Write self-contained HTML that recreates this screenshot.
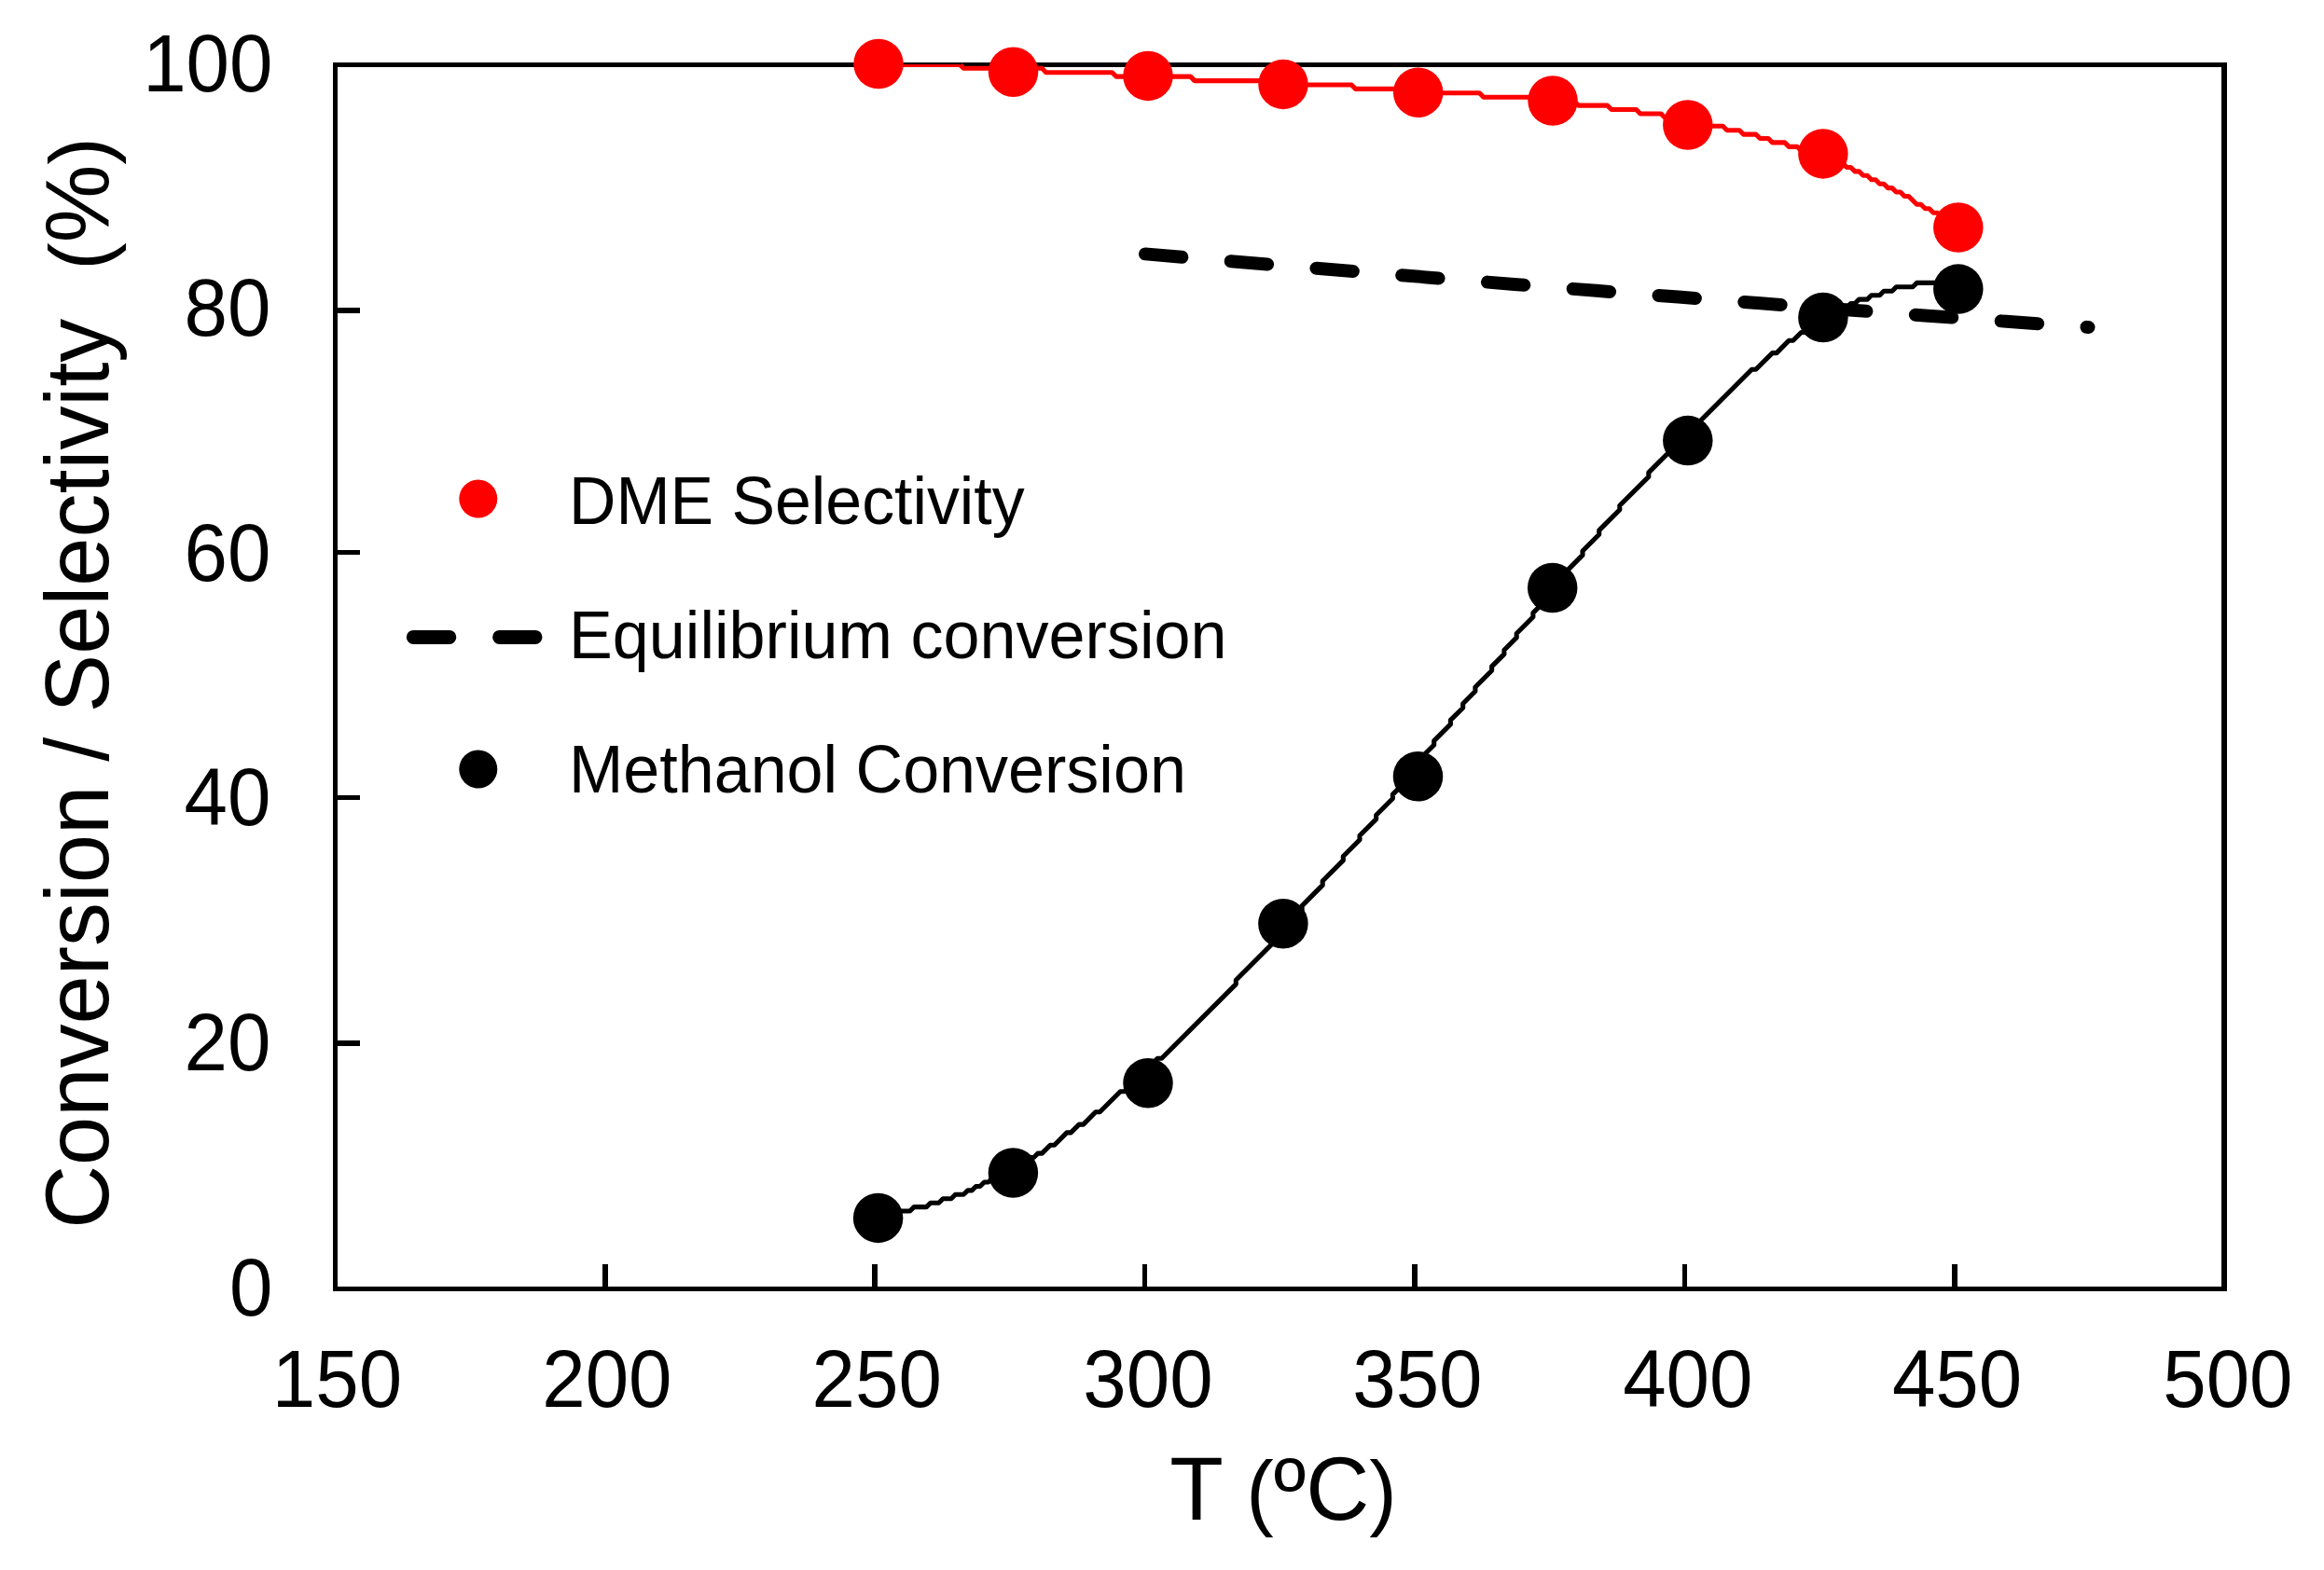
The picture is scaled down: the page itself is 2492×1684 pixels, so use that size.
<!DOCTYPE html>
<html lang="en"><head><meta charset="utf-8"><title>Conversion / Selectivity vs T</title>
<style>html,body{margin:0;padding:0;background:#fff}body{width:2492px;height:1684px;overflow:hidden}svg{display:block}text{white-space:pre;font-family:"Liberation Sans",sans-serif;fill:#000}.tk{font-size:83.5px}.ax{font-size:92.8px}.lg{font-size:69.8px}.pn{font-size:87.2px}</style></head><body>
<svg width="2492" height="1684" viewBox="0 0 2492 1684">
<rect width="2492" height="1684" fill="#fff"/>
<g fill="#000" shape-rendering="crispEdges">
<rect x="357" y="67" width="2031" height="5"/>
<rect x="357" y="1380" width="2031" height="5"/>
<rect x="357" y="67" width="5" height="1318"/>
<rect x="2382" y="67" width="6" height="1318"/>
<rect x="362" y="330" width="24" height="6"/>
<rect x="362" y="590" width="24" height="5"/>
<rect x="362" y="853" width="24" height="5"/>
<rect x="362" y="1116" width="24" height="6"/>
<rect x="646" y="1356" width="6" height="24"/>
<rect x="935" y="1356" width="6" height="24"/>
<rect x="1225" y="1356" width="5" height="24"/>
<rect x="1514" y="1356" width="6" height="24"/>
<rect x="1804" y="1356" width="5" height="24"/>
<rect x="2093" y="1356" width="6" height="24"/>
</g>
<text class="tk" transform="translate(292.5 1410.8) scale(1 1.035)" text-anchor="end">0</text>
<text class="tk" transform="translate(290.5 1148.2) scale(1 1.035)" text-anchor="end">20</text>
<text class="tk" transform="translate(290.5 884.6) scale(1 1.035)" text-anchor="end">40</text>
<text class="tk" transform="translate(290.5 623.3) scale(1 1.035)" text-anchor="end">60</text>
<text class="tk" transform="translate(290.5 360.4) scale(1 1.035)" text-anchor="end">80</text>
<text class="tk" transform="translate(292.5 97.8) scale(1 1.035)" text-anchor="end">100</text>
<text class="tk" transform="translate(361.5 1508.7) scale(1 1.035)" text-anchor="middle">150</text>
<text class="tk" transform="translate(650.9 1508.7) scale(1 1.035)" text-anchor="middle">200</text>
<text class="tk" transform="translate(940.2 1508.7) scale(1 1.035)" text-anchor="middle">250</text>
<text class="tk" transform="translate(1231.0 1508.7) scale(1 1.035)" text-anchor="middle">300</text>
<text class="tk" transform="translate(1519.9 1508.7) scale(1 1.035)" text-anchor="middle">350</text>
<text class="tk" transform="translate(1809.8 1508.7) scale(1 1.035)" text-anchor="middle">400</text>
<text class="tk" transform="translate(2098.6 1508.7) scale(1 1.035)" text-anchor="middle">450</text>
<text class="tk" transform="translate(2388.9 1508.7) scale(1 1.035)" text-anchor="middle">500</text>
<text class="ax" transform="translate(1376.0 1630.0) scale(1.016 1.03)" text-anchor="middle">T <tspan class="pn">(</tspan>ºC<tspan class="pn">)</tspan></text>
<text class="ax" transform="translate(116.2 732.5) rotate(-90) scale(1.012 1.03)" text-anchor="middle" xml:space="preserve">Conversion / Selectivity  <tspan class="pn">(</tspan>%<tspan class="pn">)</tspan></text>
<path d="M1228.0 272.4 L1272.0 276.2 L1316.0 279.9 L1359.9 283.5 L1403.9 287.2 L1447.9 290.8 L1491.9 294.3 L1535.8 297.9 L1579.8 301.4 L1623.8 304.9 L1667.8 308.4 L1711.8 311.8 L1755.7 315.3 L1799.7 318.6 L1843.7 322.0 L1887.7 325.3 L1931.7 328.6 L1975.6 331.9 L2019.6 335.2 L2063.6 338.4 L2107.6 341.6 L2151.5 344.8 L2195.5 347.9 L2239.5 351.0" fill="none" stroke="#000" stroke-width="14" stroke-linecap="round" stroke-dasharray="39.5 52.55"/>
<path d="M940.3 1303.4 L953.6 1303.4 L958.0 1299.0 L975.7 1299.0 L980.1 1294.6 L993.4 1294.6 L997.8 1290.2 L1006.7 1290.2 L1011.1 1285.7 L1020.0 1285.7 L1024.4 1281.3 L1033.2 1281.3 L1037.7 1276.9 L1042.1 1276.9 L1046.5 1272.5 L1050.9 1272.5 L1055.4 1268.0 L1059.8 1268.0 L1064.2 1263.6 L1068.6 1263.6 L1073.1 1259.2 L1077.5 1259.2 L1081.9 1254.8 L1086.3 1254.8 L1090.8 1250.3 L1095.2 1250.3 L1104.0 1241.5 L1108.5 1241.5 L1112.9 1237.1 L1117.3 1237.1 L1126.2 1228.2 L1130.6 1228.2 L1143.9 1214.9 L1148.3 1214.9 L1157.1 1206.1 L1161.6 1206.1 L1174.8 1192.8 L1179.3 1192.8 L1201.4 1170.7 L1205.8 1170.7 L1241.2 1135.3 L1245.6 1135.3 L1325.3 1055.6 L1325.3 1051.2 L1365.1 1011.4 L1365.1 1007.0 L1396.1 976.0 L1396.1 971.6 L1418.2 949.4 L1418.2 945.0 L1440.3 922.9 L1440.3 918.5 L1458.0 900.8 L1458.0 896.3 L1475.7 878.6 L1475.7 874.2 L1493.4 856.5 L1493.4 852.1 L1511.1 834.4 L1511.1 830.0 L1524.4 816.7 L1524.4 812.3 L1537.7 799.0 L1537.7 794.6 L1555.4 776.9 L1555.4 772.4 L1568.7 759.2 L1568.7 754.7 L1581.9 741.5 L1581.9 737.0 L1599.6 719.3 L1599.6 714.9 L1612.9 701.6 L1612.9 697.2 L1626.2 683.9 L1626.2 679.5 L1643.9 661.8 L1643.9 657.4 L1661.6 639.7 L1661.6 635.3 L1674.9 622.0 L1674.9 617.6 L1697.0 595.4 L1697.0 591.0 L1714.7 573.3 L1714.7 568.9 L1736.8 546.8 L1736.8 542.3 L1767.8 511.4 L1767.8 506.9 L1878.4 396.3 L1882.8 396.3 L1900.5 378.6 L1905.0 378.6 L1918.2 365.3 L1922.7 365.3 L1931.5 356.5 L1935.9 356.5 L1944.8 347.6 L1949.2 347.6 L1958.1 338.8 L1962.5 338.8 L1966.9 334.4 L1971.3 334.4 L1975.8 329.9 L1980.2 329.9 L1984.6 325.5 L1989.0 325.5 L1993.5 321.1 L2002.3 321.1 L2006.7 316.7 L2015.6 316.7 L2020.0 312.2 L2028.9 312.2 L2033.3 307.8 L2051.0 307.8 L2055.4 303.4 L2099.7 303.4" fill="none" stroke="#000" stroke-width="5.1" stroke-linejoin="round" stroke-linecap="square"/>
<g fill="#000">
<circle cx="941.6" cy="1306.4" r="26.75"/>
<circle cx="1086.4" cy="1258.0" r="26.75"/>
<circle cx="1231.0" cy="1161.7" r="26.75"/>
<circle cx="1375.9" cy="990.7" r="26.75"/>
<circle cx="1520.5" cy="832.7" r="26.75"/>
<circle cx="1664.7" cy="630.5" r="26.75"/>
<circle cx="1809.8" cy="472.6" r="26.75"/>
<circle cx="1954.9" cy="340.5" r="26.75"/>
<circle cx="2099.8" cy="310.1" r="26.75"/>
</g>
<path d="M940.3 68.9 L1028.8 68.9 L1033.2 73.3 L1117.3 73.3 L1121.7 77.7 L1192.5 77.7 L1197.0 82.1 L1276.6 82.1 L1281.0 86.6 L1365.1 86.6 L1369.5 91.0 L1449.2 91.0 L1453.6 95.4 L1524.4 95.4 L1528.8 99.8 L1586.4 99.8 L1590.8 104.3 L1643.9 104.3 L1648.3 108.7 L1688.1 108.7 L1692.6 113.1 L1723.5 113.1 L1728.0 117.5 L1754.5 117.5 L1758.9 122.0 L1781.1 122.0 L1785.5 126.4 L1807.6 126.4 L1812.0 130.8 L1829.7 130.8 L1834.2 135.2 L1847.4 135.2 L1851.9 139.7 L1865.1 139.7 L1869.6 144.1 L1882.8 144.1 L1887.3 148.5 L1896.1 148.5 L1900.5 152.9 L1913.8 152.9 L1918.2 157.4 L1927.1 157.4 L1931.5 161.8 L1940.4 161.8 L1944.8 166.2 L1953.6 166.2 L1958.1 170.6 L1962.5 170.6 L1966.9 175.1 L1975.8 175.1 L1980.2 179.5 L1984.6 179.5 L1989.0 183.9 L1993.5 183.9 L1997.9 188.3 L2002.3 188.3 L2006.7 192.8 L2011.2 192.8 L2015.6 197.2 L2020.0 197.2 L2024.4 201.6 L2028.9 201.6 L2033.3 206.0 L2037.7 206.0 L2042.1 210.5 L2046.6 210.5 L2055.4 219.3 L2059.8 219.3 L2064.3 223.7 L2068.7 223.7 L2073.1 228.2 L2077.5 228.2 L2082.0 232.6 L2086.4 232.6 L2095.2 241.4 L2099.7 241.4" fill="none" stroke="#f00" stroke-width="5.1" stroke-linejoin="round" stroke-linecap="square"/>
<rect x="960" y="64" width="78" height="3" fill="#fff"/><rect x="960" y="67" width="71" height="2.2" fill="#000"/><rect x="960" y="69.2" width="69" height="2.8" fill="#f00"/>
<g fill="#f00">
<circle cx="942.0" cy="68.5" r="26.75"/>
<circle cx="1086.5" cy="77.2" r="26.75"/>
<circle cx="1231.0" cy="81.4" r="26.75"/>
<circle cx="1376.0" cy="90.4" r="26.75"/>
<circle cx="1520.7" cy="99.2" r="26.75"/>
<circle cx="1665.0" cy="108.0" r="26.75"/>
<circle cx="1809.8" cy="134.0" r="26.75"/>
<circle cx="1954.9" cy="164.9" r="26.75"/>
<circle cx="2099.8" cy="244.0" r="26.75"/>
</g>
<circle cx="512.8" cy="535" r="20.5" fill="#f00"/>
<circle cx="512.8" cy="825" r="20.5" fill="#000"/>
<path d="M443.3 683.4H481.8M535.6 683.4H574" fill="none" stroke="#000" stroke-width="15" stroke-linecap="round"/>
<text class="lg" transform="translate(610.0 561.9) scale(1 1.03)" text-anchor="start">DME Selectivity</text>
<text class="lg" transform="translate(610.0 705.7) scale(1.005 1.03)" text-anchor="start">Equilibrium conversion</text>
<text class="lg" transform="translate(610.0 850.0) scale(1.0035 1.03)" text-anchor="start">Methanol Conversion</text>
</svg></body></html>
